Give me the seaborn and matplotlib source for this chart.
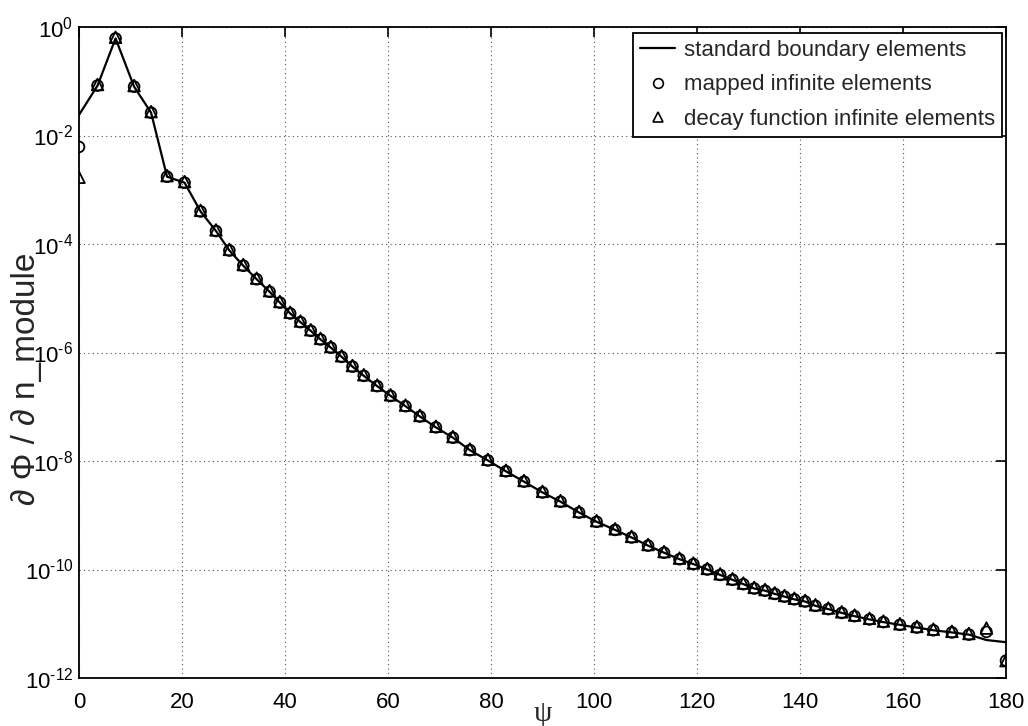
import matplotlib

matplotlib.use("Agg")

import matplotlib.pyplot as plt
import numpy as np
import seaborn as sns
from matplotlib.lines import Line2D
from matplotlib.ticker import FixedLocator, FuncFormatter, NullLocator

# node positions (degrees) and log10 of |dPhi/dn|
psi = [0, 3.6, 7.1, 10.7, 14.0, 17.1, 20.5, 23.6, 26.6, 29.2, 31.9, 34.5, 37.0, 39.0,
       41.0, 43.0, 45.0, 46.9, 48.9, 51.0, 53.1, 55.3, 57.9, 60.5, 63.4, 66.2, 69.3,
       72.6, 75.9, 79.4, 82.9, 86.4, 90.0, 93.5, 97.1, 100.5, 104.1, 107.3, 110.5,
       113.6, 116.6, 119.3, 122.0, 124.5, 126.9, 129.0, 131.1, 133.2, 135.1, 137.0,
       138.9, 141.0, 143.0, 145.5, 148.1, 150.6, 153.5, 156.2, 159.4, 162.7, 165.9,
       169.5, 172.8, 176.2, 180]
log_standard = [-1.62, -1.08, -0.21, -1.10, -1.58, -2.76, -2.87, -3.40, -3.76, -4.12,
                -4.40, -4.65, -4.88, -5.08, -5.28, -5.44, -5.60, -5.76, -5.91, -6.08,
                -6.26, -6.43, -6.62, -6.80, -6.99, -7.18, -7.38, -7.57, -7.80, -7.99,
                -8.19, -8.38, -8.58, -8.75, -8.95, -9.12, -9.27, -9.41, -9.56, -9.69,
                -9.81, -9.90, -10.00, -10.10, -10.19, -10.27, -10.35, -10.39, -10.45,
                -10.50, -10.55, -10.59, -10.67, -10.73, -10.80, -10.86, -10.92, -10.97,
                -11.02, -11.07, -11.12, -11.16, -11.20, -11.30, -11.34]
log_mapped = [-2.21] + log_standard[1:-2] + [-11.15, -11.68]
log_decay = [-2.77] + [v + 0.02 for v in log_standard[1:-2]] + [-11.08, -11.68]

standard = 10 ** np.array(log_standard)
mapped = 10 ** np.array(log_mapped)
decay = 10 ** np.array(log_decay)

sns.set_style("white")
plt.rcParams["font.family"] = ["Liberation Sans", "DejaVu Sans"]
plt.rcParams["mathtext.fontset"] = "custom"
plt.rcParams["mathtext.rm"] = "Liberation Sans"
plt.rcParams["mathtext.it"] = "Liberation Sans"

fig = plt.figure(figsize=(10.28, 7.26), dpi=100)
ax = fig.add_axes([79 / 1028, 1 - 678 / 726, 927 / 1028, 651 / 726])

sns.lineplot(x=psi, y=standard, color="black", linewidth=1.6, ax=ax, zorder=3)
sns.scatterplot(x=psi, y=mapped, marker="o", s=60, facecolor="none",
                edgecolor="black", linewidth=1.3, ax=ax, zorder=4)
sns.scatterplot(x=psi, y=decay, marker="^", s=70, facecolor="none",
                edgecolor="black", linewidth=1.3, ax=ax, zorder=4)

ax.set_yscale("log")
ax.set_xlim(0, 180)
ax.set_ylim(1e-12, 1e0)
ax.set_xticks(range(0, 181, 20))
ax.yaxis.set_major_locator(FixedLocator([10.0 ** e for e in range(-12, 1, 2)]))
ax.yaxis.set_minor_locator(NullLocator())


def exp_label(v, pos):
    e = int(round(np.log10(v)))
    if e < 0:
        return r"$10^{\text{-}%d}$" % (-e)
    return r"$10^{%d}$" % e


ax.yaxis.set_major_formatter(FuncFormatter(exp_label))

ax.grid(True, which="major", linestyle=(0, (1, 3)), color="#555555", linewidth=0.8)
ax.tick_params(axis="both", which="major", direction="in", length=7, width=1.2,
               top=True, right=True, labelsize=16, colors="black")
ax.tick_params(axis="x", pad=10)
ax.tick_params(axis="y", pad=4)
for side in ax.spines.values():
    side.set_color("black")
    side.set_linewidth(1.3)

ax.set_xlabel("ψ", fontsize=21, family=["Liberation Serif", "DejaVu Serif"])
ax.xaxis.set_label_coords(0.5, -0.036)
ax.set_ylabel("∂ Φ / ∂ n_module", fontsize=24)
ax.yaxis.set_label_coords(-0.04, 0.46)

handles = [
    Line2D([], [], color="black", linewidth=1.6),
    Line2D([], [], color="black", marker="o", linestyle="", mfc="none", markersize=7,
           mew=1.2),
    Line2D([], [], color="black", marker="^", linestyle="", mfc="none", markersize=7,
           mew=1.2),
]
labels = ["standard boundary elements", "mapped infinite elements",
          "decay function infinite elements"]
leg = ax.legend(handles, labels, loc="upper right",
                bbox_to_anchor=(1 - 4 / 927, 1 - 6 / 651), borderaxespad=0,
                fontsize=16, frameon=True, fancybox=False, edgecolor="black",
                framealpha=1, borderpad=0.3, handlelength=1.6, handletextpad=0.4,
                labelspacing=0.62)
leg.get_frame().set_linewidth(1.3)

fig.savefig("out.png", dpi=100)
